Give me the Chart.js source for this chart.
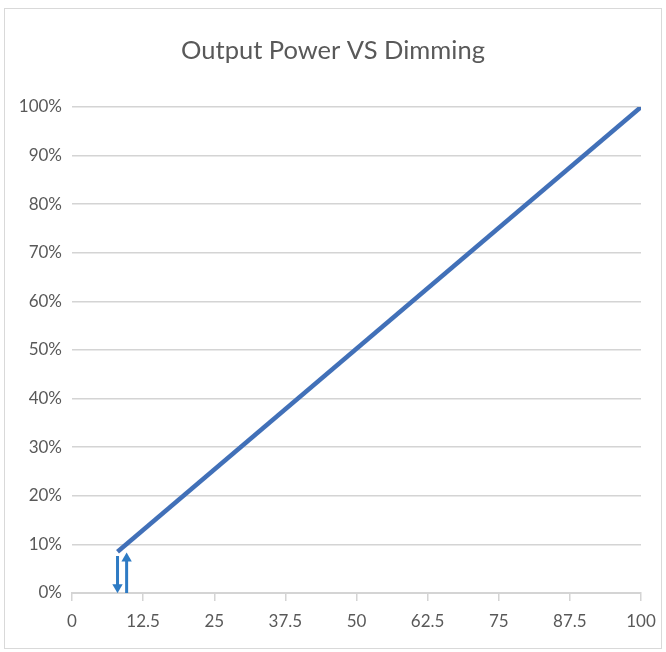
<!DOCTYPE html>
<html><head><meta charset="utf-8">
<script src="https://cdn.jsdelivr.net/npm/chart.js@4.4.1/dist/chart.umd.min.js"></script>
<style>
html,body{margin:0;padding:0;background:#fff;}
#wrap{position:relative;width:666px;height:652px;}
#frame{position:absolute;left:4px;top:8px;width:658px;height:641px;border:1.5px solid #d9d9d9;box-sizing:border-box;pointer-events:none;}
</style></head><body>
<div id="wrap"><canvas id="c" width="666" height="652"></canvas><div id="frame"></div></div>
<script>
const titleText = 'Output Power VS Dimming';
const dimmingLevels = [8, 100];
const outputPower = [8.5, 100];
const xTickValues = [0, 12.5, 25, 37.5, 50, 62.5, 75, 87.5, 100];
const xTickLabels = ['0', '12.5', '25', '37.5', '50', '62.5', '75', '87.5', '100'];
const yTickValues = [0, 10, 20, 30, 40, 50, 60, 70, 80, 90, 100];
const yTickLabels = ['0%', '10%', '20%', '30%', '40%', '50%', '60%', '70%', '80%', '90%', '100%'];
const arrowDownX = [8, 8];
const arrowDownY = [7.6, 1.2];
const arrowUpX = [9.6, 9.6];
const arrowUpY = [0, 7.1];

const toPts = (xs, ys) => xs.map((x, i) => ({x: x, y: ys[i]}));
const FONT = 'Lato';

// center the title block on the outer frame rather than the padded chart box
const titleCenterPlugin = {
  id: 'titleCenter',
  afterLayout(chart) {
    const t = chart.titleBlock;
    if (t) { t.left = 4; t.right = 662; t.width = 658; }
  }
};

new Chart(document.getElementById('c'), {
  type: 'line',
  plugins: [titleCenterPlugin],
  data: {
    datasets: [
      {
        data: toPts(dimmingLevels, outputPower),
        borderColor: '#4170B8', borderWidth: 4.5, pointRadius: 0,
        borderCapStyle: 'butt', tension: 0, order: 0
      },
      {
        data: toPts(arrowDownX, arrowDownY),
        borderColor: '#2E7BC4', borderWidth: 3,
        pointStyle: 'triangle', pointRadius: [0, 6], pointRotation: [0, 180],
        pointBackgroundColor: '#2E7BC4', pointBorderWidth: 0, order: 1
      },
      {
        data: toPts(arrowUpX, arrowUpY),
        borderColor: '#2E7BC4', borderWidth: 3,
        pointStyle: 'triangle', pointRadius: [0, 6], pointRotation: [0, 0],
        pointBackgroundColor: '#2E7BC4', pointBorderWidth: 0, order: 1
      }
    ]
  },
  options: {
    responsive: false, animation: false, devicePixelRatio: 1, events: [],
    layout: {padding: {left: 0, right: 25, top: 0, bottom: 0}},
    plugins: {
      legend: {display: false},
      tooltip: {enabled: false},
      title: {
        display: true, text: titleText, color: '#595959',
        font: {family: FONT, size: 25.5, weight: 'normal', lineHeight: 1.2},
        padding: {top: 35, bottom: 41.4}
      }
    },
    scales: {
      x: {
        type: 'linear', min: 0, max: 100,
        afterBuildTicks: (axis) => { axis.ticks = xTickValues.map(v => ({value: v})); },
        afterFit: (axis) => { axis.height = 59; },
        ticks: {
          color: '#595959', font: {family: FONT, size: 17}, padding: 10, maxRotation: 0, autoSkip: false,
          callback: (v, i) => xTickLabels[i]
        },
        grid: {drawOnChartArea: false, drawTicks: true, tickLength: 8, color: '#d4d4d4', lineWidth: 1.5},
        border: {display: true, color: '#d4d4d4', width: 2}
      },
      y: {
        type: 'linear', min: 0, max: 100,
        afterBuildTicks: (axis) => { axis.ticks = yTickValues.map(v => ({value: v})); },
        afterFit: (axis) => { axis.width = 72; },
        ticks: {
          color: '#595959', font: {family: FONT, size: 17}, padding: 10,
          callback: (v, i) => yTickLabels[i]
        },
        grid: {color: '#d4d4d4', lineWidth: 1.6, drawTicks: false},
        border: {display: false}
      }
    }
  }
});
</script>
</body></html>
